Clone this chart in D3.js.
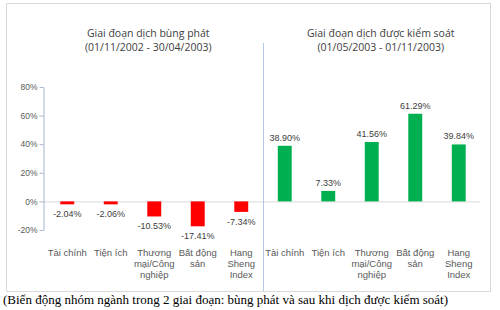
<!DOCTYPE html>
<html lang="vi">
<head>
<meta charset="UTF-8">
<title>Biến động nhóm ngành</title>
<script src="https://d3js.org/d3.v7.min.js"></script>
<style>
  body { margin: 0; background: #fff; }
  svg { font-family: "Liberation Sans", Arial, sans-serif; }
</style>
</head>
<body>
<div id="chart"></div>
<script>
  // sectors (each shown in both periods)
  const categories = ["Tài chính", "Tiện ích", "Thương mại/Công nghiệp", "Bất động sản", "Hang Sheng Index"];
  const categoryLines = [["Tài chính"], ["Tiện ích"], ["Thương", "mại/Công", "nghiệp"], ["Bất động", "sản"], ["Hang", "Sheng", "Index"]];
  const outbreakValues = [-2.04, -2.06, -10.53, -17.41, -7.34];
  const controlledValues = [38.90, 7.33, 41.56, 61.29, 39.84];
  const yTicks = [-20, 0, 20, 40, 60, 80];
  const periodTitles = [
    ["Giai đoạn dịch bùng phát", "(01/11/2002 - 30/04/2003)"],
    ["Giai đoạn dịch được kiểm soát", "(01/05/2003 - 01/11/2003)"]
  ];
  const caption = "(Biến động nhóm ngành trong 2 giai đoạn: bùng phát và sau khi dịch được kiểm soát)";

  const width = 500, height = 310;
  const svg = d3.select("#chart").append("svg")
    .attr("width", width).attr("height", height);

  // chart frame
  svg.append("rect")
    .attr("x", 6.5).attr("y", 3.5).attr("width", 484).attr("height", 288)
    .attr("fill", "#fff").attr("stroke", "#d9d9d9");

  const rows = [];
  categories.forEach((c, i) => rows.push({ key: "a" + i, lines: categoryLines[i], value: outbreakValues[i], period: 0 }));
  categories.forEach((c, i) => rows.push({ key: "b" + i, lines: categoryLines[i], value: controlledValues[i], period: 1 }));

  const x = d3.scaleBand().domain(rows.map(d => d.key)).range([45.5, 480.5]).paddingInner(0.68).paddingOuter(0.34);
  const y = d3.scaleLinear().domain([-20, 80]).range([230, 87]);

  // zero line
  svg.append("line")
    .attr("x1", 43).attr("x2", 480).attr("y1", y(0) + 0.5).attr("y2", y(0) + 0.5)
    .attr("stroke", "#d9d9d9");

  // y axis
  const yAxis = svg.append("g").attr("transform", "translate(43.5,0)")
    .call(d3.axisLeft(y).tickValues(yTicks).tickFormat(d => d + "%").tickSize(4).tickSizeOuter(0));
  yAxis.attr("font-family", null);
  yAxis.select(".domain").attr("stroke", "#a6b8cc");
  yAxis.selectAll(".tick line").attr("stroke", "#a6b8cc");
  yAxis.selectAll(".tick text").attr("fill", "#595959").attr("font-size", 8.5).attr("x", -6);

  // divider between the two periods
  const divX = Math.round((x("a4") + x.bandwidth() + x("b0")) / 2) + 0.5;
  svg.append("line")
    .attr("x1", divX).attr("x2", divX).attr("y1", 43).attr("y2", 291)
    .attr("stroke", "#b4c7e7");

  // bars
  svg.selectAll("rect.bar").data(rows).enter().append("rect")
    .attr("class", "bar")
    .attr("x", d => x(d.key))
    .attr("width", x.bandwidth())
    .attr("y", d => y(Math.max(0, d.value)))
    .attr("height", d => Math.abs(y(d.value) - y(0)))
    .attr("fill", d => d.period === 0 ? "#ff0000" : "#00b050");

  // data labels
  svg.selectAll("text.val").data(rows).enter().append("text")
    .attr("class", "val")
    .attr("x", d => x(d.key) + x.bandwidth() / 2)
    .attr("y", d => d.value >= 0 ? y(d.value) - 5 : y(d.value) + 13)
    .attr("text-anchor", "middle")
    .attr("font-size", 9)
    .attr("fill", "#404040")
    .text(d => d.value.toFixed(2) + "%");

  // category labels
  const cat = svg.selectAll("text.cat").data(rows).enter().append("text")
    .attr("class", "cat")
    .attr("text-anchor", "middle")
    .attr("font-size", 9.5)
    .attr("fill", "#595959");
  cat.selectAll("tspan").data(d => d.lines.map(l => ({ l, cx: x(d.key) + x.bandwidth() / 2 })))
    .enter().append("tspan")
    .attr("x", d => d.cx)
    .attr("y", (d, i) => 256 + i * 11)
    .text(d => d.l);

  // period titles
  const titleX = [x("a2") + x.bandwidth() / 2 - 6, x("b2") + x.bandwidth() / 2 + 9];
  periodTitles.forEach((t, p) => {
    t.forEach((line, i) => {
      svg.append("text")
        .attr("x", titleX[p]).attr("y", 37 + i * 14)
        .attr("text-anchor", "middle")
        .style("font-family", "'Open Sans', sans-serif")
        .attr("font-size", 10.5)
        .attr("fill", "#404040")
        .text(line);
    });
  });

  // caption
  svg.append("text")
    .attr("x", 3).attr("y", 304)
    .style("font-family", "'Liberation Serif', 'Times New Roman', serif")
    .attr("font-size", 13)
    .attr("fill", "#000")
    .text(caption);
</script>
</body>
</html>
